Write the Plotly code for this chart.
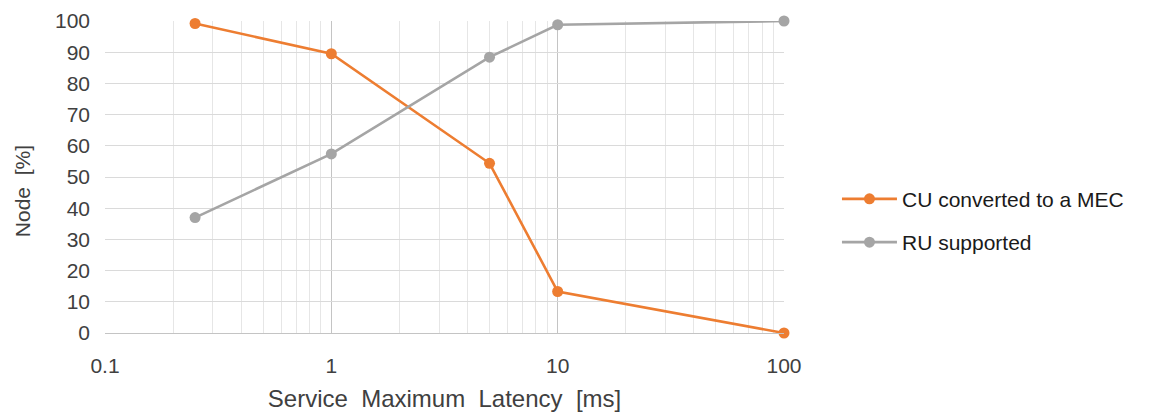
import plotly.graph_objects as go

# data
latency_ms = [0.25, 1, 5, 10, 100]
cu_converted = [99.2, 89.5, 54.4, 13.3, 0]
ru_supported = [37, 57.4, 88.4, 98.8, 100]

x_ticks = [0.1, 1, 10, 100]
x_tick_labels = ['0.1', '1', '10', '100']
y_ticks = list(range(0, 101, 10))


def main():
    fig = go.Figure()
    fig.add_trace(go.Scatter(
        x=latency_ms, y=cu_converted, name='CU converted to a MEC',
        mode='lines+markers', legendgroup='cu', cliponaxis=False,
        line=dict(color='#ED7D31', width=2.6),
        marker=dict(color='#ED7D31', size=11),
    ))
    fig.add_trace(go.Scatter(
        x=latency_ms, y=ru_supported, name='RU supported',
        mode='lines+markers', legendgroup='ru', cliponaxis=False,
        line=dict(color='#A5A5A5', width=2.6),
        marker=dict(color='#A5A5A5', size=11),
    ))

    # the page body adds an 8px margin, so margins are trimmed by that much
    fig.update_layout(
        width=1163, height=414,
        margin=dict(l=97, r=387, t=13, b=89),
        plot_bgcolor='white', paper_bgcolor='white',
        font=dict(family='Liberation Sans, Arial, sans-serif', size=21, color='#404040'),
        xaxis=dict(
            type='log', range=[-1, 2], automargin=False,
            tickvals=x_ticks, ticktext=x_tick_labels,
            showgrid=True, gridcolor='#c4c4c4', gridwidth=1,
            minor=dict(showgrid=True, gridcolor='#e6e6e6', gridwidth=1, dtick='D1'),
            showline=True, linecolor='#c4c4c4', mirror=False,
            zeroline=False, ticks='', ticklabelstandoff=14,
            title=dict(text='Service  Maximum  Latency  [ms]', standoff=13,
                       font=dict(size=24, color='#404040')),
        ),
        yaxis=dict(
            range=[0, 100], tickvals=y_ticks, automargin=False,
            showgrid=True, gridcolor='#dadada', gridwidth=1,
            showline=False, zeroline=False, ticks='', ticklabelstandoff=14,
        ),
        legend=dict(
            x=1.078, xanchor='left', y=0.36, yanchor='middle',
            font=dict(size=21, color='#1a1a1a'),
            tracegroupgap=13, traceorder='grouped', itemwidth=55,
            bgcolor='rgba(0,0,0,0)',
        ),
    )
    # y title placed as an annotation so it can sit a little below centre
    fig.add_annotation(
        text='Node  [%]', textangle=-90, showarrow=False,
        xref='paper', yref='paper', x=-0.122, y=0.455,
        xanchor='center', yanchor='middle',
        font=dict(size=21, color='#404040'),
    )
    fig.write_html('out.html')


if __name__ == '__main__':
    main()
